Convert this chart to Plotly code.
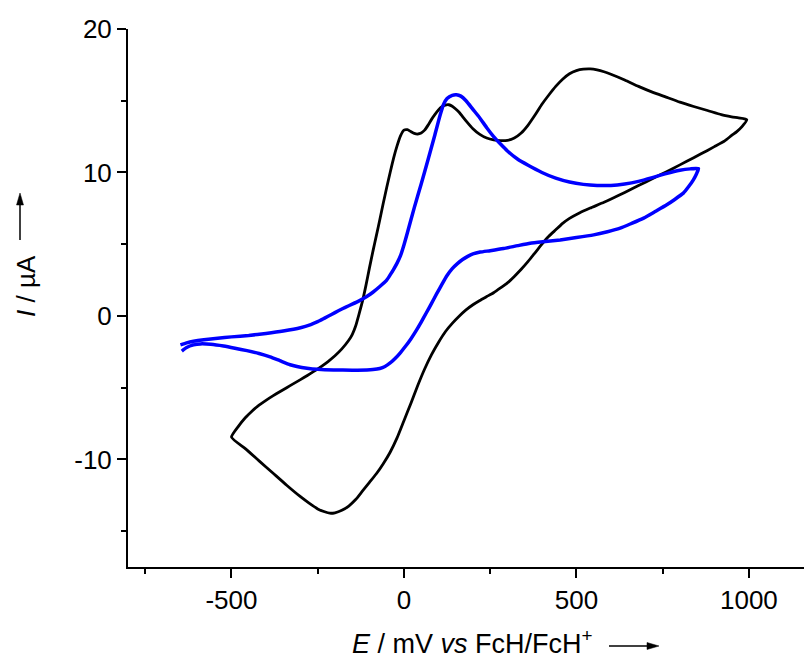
import plotly.graph_objects as go

# ---- data ----
# black CV: starts at the -500 mV vertex, anodic sweep to ~994 mV, then back to -500 mV
E_black = [-500, -480, -460, -440, -420, -400, -380, -360, -340, -320, -300, -280, -260, -240, -220, -200,
           -180, -160, -150, -140, -130, -120, -110, -100, -90, -80, -70, -60, -50, -40, -30, -20, -10, 0,
           10, 20, 30, 40, 50, 60, 70, 80, 90, 100, 110, 120, 130, 140, 150, 160, 170, 180, 200, 220, 240,
           260, 280, 300, 320, 340, 360, 380, 400, 420, 440, 460, 480, 500, 520, 540, 560, 580, 600, 640,
           680, 720, 760, 800, 840, 880, 920, 950, 970, 994,
           980, 965, 950, 930, 900, 860, 820, 780, 740, 700, 660, 620, 580, 540, 510, 480, 460, 440, 420,
           400, 380, 360, 340, 320, 300, 280, 260, 240, 220, 200, 180, 160, 140, 120, 100, 80, 60, 40, 20,
           0, -20, -40, -60, -80, -100, -120, -140, -160, -180, -200, -215, -230, -250, -275, -300, -340,
           -380, -420, -460, -500]
I_black = [-8.45, -7.70, -7.10, -6.62, -6.22, -5.88, -5.57, -5.28, -5.00, -4.72, -4.44, -4.15, -3.85, -3.53, -3.18, -2.78,
           -2.30, -1.70, -1.30, -0.70, 0.15, 1.05, 2.15, 3.35, 4.50, 5.60, 6.70, 7.85, 8.95, 10.0, 11.0, 11.85, 12.55, 12.95,
           12.98, 12.85, 12.72, 12.68, 12.75, 12.95, 13.3, 13.7, 14.05, 14.35, 14.58, 14.7, 14.72, 14.62, 14.42, 14.2, 13.9, 13.6, 13.05, 12.65, 12.4,
           12.27, 12.22, 12.24, 12.4, 12.75, 13.3, 14.0, 14.75, 15.4, 16.0, 16.5, 16.88, 17.1, 17.2, 17.22, 17.15, 17.02, 16.85, 16.45,
           16.0, 15.6, 15.25, 14.9, 14.6, 14.32, 14.03, 13.88, 13.8, 13.68,
           13.2, 12.85, 12.58, 12.2, 11.8, 11.28, 10.78, 10.28, 9.8, 9.32, 8.85, 8.37, 7.92, 7.52, 7.2, 6.8, 6.45, 6.0, 5.55,
           5.0, 4.4, 3.8, 3.25, 2.75, 2.3, 1.95, 1.62, 1.35, 1.08, 0.78, 0.42, -0.02, -0.52, -1.1, -1.85, -2.7, -3.7, -4.85, -6.1,
           -7.3, -8.5, -9.5, -10.3, -11.0, -11.6, -12.2, -12.8, -13.25, -13.55, -13.72, -13.75, -13.65, -13.45, -13.05, -12.6, -11.8,
           -10.95, -10.1, -9.25, -8.45]

# blue CV: starts at about -648 mV, anodic sweep to ~854 mV, then back to about -644 mV
E_blue = [-648, -630, -610, -580, -540, -500, -450, -400, -350, -300, -270, -250, -230, -210, -190, -170, -150, -130,
          -110, -90, -70, -50, -40, -30, -20, -10, 0, 10, 30, 50, 70, 90, 105, 115, 125, 140, 152, 165, 180, 200,
          220, 240, 260, 280, 300, 330, 360, 400, 440, 480, 520, 560, 600, 640, 680, 720, 760, 800, 830, 854,
          848, 839, 825, 810, 785, 762, 730, 695, 660, 627, 590, 550, 500, 453, 410, 366, 330, 289, 250, 221, 200,
          185, 170, 155, 140, 125, 110, 95, 80, 65, 50, 35, 20, 5, -10, -25, -40, -55, -70, -90, -107, -150, -204,
          -250, -281, -310, -330, -360, -388, -420, -455, -490, -523, -560, -590, -610, -630, -644]
I_blue = [-2.02, -1.88, -1.77, -1.66, -1.55, -1.46, -1.36, -1.22, -1.05, -0.82, -0.60, -0.40, -0.15, 0.10, 0.36, 0.60, 0.82, 1.05,
          1.32, 1.65, 2.05, 2.5, 2.86, 3.25, 3.68, 4.2, 4.95, 5.8, 7.55, 9.2, 10.9, 12.65, 14.0, 14.75, 15.15, 15.38, 15.42, 15.32, 15.0, 14.4,
          13.8, 13.12, 12.5, 11.98, 11.5, 10.92, 10.5, 10.0, 9.6, 9.33, 9.17, 9.1, 9.1, 9.2, 9.38, 9.64, 9.92, 10.15, 10.25, 10.27,
          9.9, 9.49, 9.0, 8.56, 8.12, 7.75, 7.3, 6.82, 6.45, 6.12, 5.87, 5.65, 5.46, 5.30, 5.19, 5.07, 4.9, 4.7, 4.55, 4.45, 4.32,
          4.15, 3.93, 3.65, 3.3, 2.82, 2.2, 1.55, 0.88, 0.22, -0.43, -1.04, -1.6, -2.1, -2.55, -2.95, -3.28, -3.52, -3.66, -3.74, -3.77, -3.78, -3.77,
          -3.72, -3.64, -3.52, -3.4, -3.12, -2.86, -2.62, -2.42, -2.25, -2.1, -1.98, -1.95, -2.02, -2.2, -2.45]

x_tickvals = [-500, 0, 500, 1000]
x_ticktext = ["-500", "0", "500", "1000"]
x_minor = [-750, -250, 250, 750]
y_tickvals = [-10, 0, 10, 20]
y_ticktext = ["-10", "0", "10", "20"]
y_minor = [-15, -5, 5, 15]

FONT = "Liberation Sans, Arial, sans-serif"
FS = 26

fig = go.Figure()
fig.add_trace(go.Scatter(x=E_black, y=I_black, mode="lines",
                         line=dict(color="black", width=2.8, shape="spline", smoothing=0.5),
                         showlegend=False))
fig.add_trace(go.Scatter(x=E_blue, y=I_blue, mode="lines",
                         line=dict(color="#0000FF", width=3.5, shape="spline", smoothing=0.5),
                         showlegend=False))

axis_common = dict(showgrid=False, zeroline=False, showline=True, linecolor="black", linewidth=2,
                   ticks="outside", ticklen=9, tickwidth=2, tickcolor="black",
                   tickfont=dict(family=FONT, size=FS, color="black"), mirror=False)

fig.update_xaxes(range=[-800, 1183], tickmode="array", tickvals=x_tickvals, ticktext=x_ticktext,
                 minor=dict(tickmode="array", tickvals=x_minor, ticks="outside", ticklen=5, tickwidth=2, tickcolor="black"),
                 **axis_common)
fig.update_yaxes(range=[-17.5, 20], tickmode="array", tickvals=y_tickvals, ticktext=y_ticktext,
                 minor=dict(tickmode="array", tickvals=y_minor, ticks="outside", ticklen=5, tickwidth=2, tickcolor="black"),
                 **axis_common)

# page body has an 8 px margin, so the figure is shifted by (8, 8) in the screenshot
OFF = 8
PL, PT, PB = 128, 29, 567          # plot area edges in page pixels
PW, PH = 684, PB - PT
W, H = 812 - OFF, 660 - OFF

def px(xp):
    return (xp - PL) / PW

def py(yp):
    return (PB - yp) / PH

annotations = [
    dict(text="<i>I</i> / µA", x=px(26), y=py(286), xref="paper", yref="paper", textangle=-90,
         showarrow=False, xanchor="center", yanchor="middle", font=dict(family=FONT, size=FS, color="black")),
    dict(text="<i>E</i> / mV <i>vs</i> FcH/FcH<sup>+</sup>", x=px(350), y=py(642), xref="paper", yref="paper",
         showarrow=False, xanchor="left", yanchor="middle", font=dict(family=FONT, size=27, color="black")),
]

def tri(p1, p2, p3):
    return "M {},{} L {},{} L {},{} Z".format(px(p1[0]), py(p1[1]), px(p2[0]), py(p2[1]), px(p3[0]), py(p3[1]))

shapes = [
    # arrow next to the x-axis title
    dict(type="line", xref="paper", yref="paper", x0=px(609), y0=py(646), x1=px(650), y1=py(646),
         line=dict(color="black", width=1.5)),
    dict(type="path", xref="paper", yref="paper", path=tri((659, 646), (647, 642.5), (647, 649.5)),
         fillcolor="black", line=dict(color="black", width=0.5)),
    # arrow next to the y-axis title
    dict(type="line", xref="paper", yref="paper", x0=px(20), y0=py(240), x1=px(20), y1=py(202),
         line=dict(color="black", width=1.5)),
    dict(type="path", xref="paper", yref="paper", path=tri((20, 193), (16.5, 205), (23.5, 205)),
         fillcolor="black", line=dict(color="black", width=0.5)),
]

fig.update_layout(width=W, height=H,
                  margin=dict(l=PL - OFF, r=W - (PL - OFF) - PW, t=PT - OFF, b=H - (PB - OFF)),
                  paper_bgcolor="white", plot_bgcolor="white", annotations=annotations, shapes=shapes,
                  font=dict(family=FONT, color="black"))

fig.write_html("out.html")
